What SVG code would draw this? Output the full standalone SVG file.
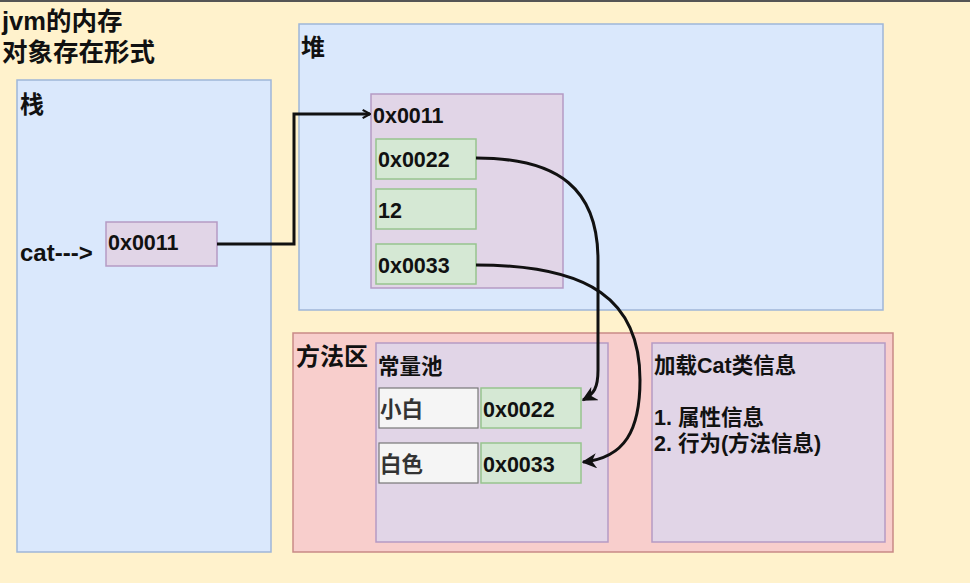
<svg xmlns="http://www.w3.org/2000/svg" width="970" height="583" viewBox="0 0 970 583">
<defs>
<style>
.t{font-family:"Liberation Sans","Noto Sans CJK SC",sans-serif;font-weight:bold;fill:#111}
.big{font-size:24px}
.title{font-size:25.5px}
.mid{font-size:21.5px}
.blue{fill:#dae8fc;stroke:#9fb6d8;stroke-width:1.5}
.purple{fill:#e1d5e7;stroke:#b59ac4;stroke-width:1.5}
.green{fill:#d5e8d4;stroke:#97c48f;stroke-width:1.5}
.red{fill:#f8cecc;stroke:#c98a86;stroke-width:1.5}
.white{fill:#f5f5f5;stroke:#777;stroke-width:1.2}
.edge{fill:none;stroke:#111;stroke-width:3}
</style>
<marker id="arr" viewBox="0 0 10 10" refX="9" refY="5" markerWidth="5" markerHeight="5" orient="auto" markerUnits="strokeWidth">
<path d="M0,0 L10,5 L0,10 L3,5 Z" fill="#111"/>
</marker>
<marker id="open" viewBox="0 0 10 10" refX="9" refY="5" markerWidth="3.5" markerHeight="4" orient="auto" markerUnits="strokeWidth">
<path d="M2,1 L9,5 L2,9" fill="none" stroke="#111" stroke-width="2"/>
</marker>
</defs>
<rect x="0" y="0" width="970" height="583" fill="#fff2cc"/>
<rect x="0" y="0" width="970" height="2" fill="#555"/>
<g id="title">
<text class="t title" x="2" y="30">jvm的内存</text>
<text class="t title" x="2" y="61">对象存在形式</text>
</g>
<g id="stack">
<rect class="blue" x="17" y="80" width="254" height="472"/>
<text class="t big" x="20" y="113">栈</text>
<text class="t big" x="20" y="261">cat---&gt;</text>
</g>
<g id="stack-ref">
<rect class="purple" x="106" y="222" width="111" height="44"/>
<text class="t mid" x="108" y="250">0x0011</text>
</g>
<g id="heap">
<rect class="blue" x="299" y="24" width="584" height="286"/>
<text class="t big" x="301" y="56">堆</text>
</g>
<g id="heap-object">
<rect class="purple" x="371" y="94" width="192" height="194"/>
<text class="t mid" x="373" y="123">0x0011</text>
</g>
<g id="field-name">
<rect class="green" x="376" y="139" width="100" height="40"/>
<text class="t mid" x="378" y="167">0x0022</text>
</g>
<g id="field-age">
<rect class="green" x="376" y="189" width="100" height="40"/>
<text class="t mid" x="378" y="218">12</text>
</g>
<g id="field-color">
<rect class="green" x="376" y="244" width="100" height="40"/>
<text class="t mid" x="378" y="273">0x0033</text>
</g>
<g id="method-area">
<rect class="red" x="293" y="333" width="600" height="219"/>
<text class="t big" x="296" y="365">方法区</text>
</g>
<g id="constant-pool">
<rect class="purple" x="376" y="343" width="232" height="199"/>
<text class="t mid" x="378" y="374">常量池</text>
</g>
<g id="str-xiaobai">
<rect class="white" x="379" y="388" width="99" height="40"/>
<text class="t mid" x="380" y="417" style="fill:#333">小白</text>
</g>
<g id="addr-0022">
<rect class="green" x="481" y="388" width="100" height="40"/>
<text class="t mid" x="483" y="417">0x0022</text>
</g>
<g id="str-baise">
<rect class="white" x="379" y="443" width="99" height="40"/>
<text class="t mid" x="380" y="472" style="fill:#333">白色</text>
</g>
<g id="addr-0033">
<rect class="green" x="481" y="443" width="100" height="40"/>
<text class="t mid" x="483" y="472">0x0033</text>
</g>
<g id="class-info">
<rect class="purple" x="652" y="343" width="233" height="199"/>
<text class="t mid" x="654" y="373">加载Cat类信息</text>
<text class="t mid" x="654" y="425">1. 属性信息</text>
<text class="t mid" x="654" y="451">2. 行为(方法信息)</text>
</g>
<g id="connectors">
<path class="edge" d="M217,244 H294 V114 H370" marker-end="url(#open)"/>
<path class="edge" d="M476,158 C560,158 598,190 598,260 L598,370 C598,388 594,394 583,400" marker-end="url(#arr)"/>
<path class="edge" d="M476,265 C590,265 640,300 640,380 C640,430 625,458 583,462" marker-end="url(#arr)"/>
</g>
</svg>
